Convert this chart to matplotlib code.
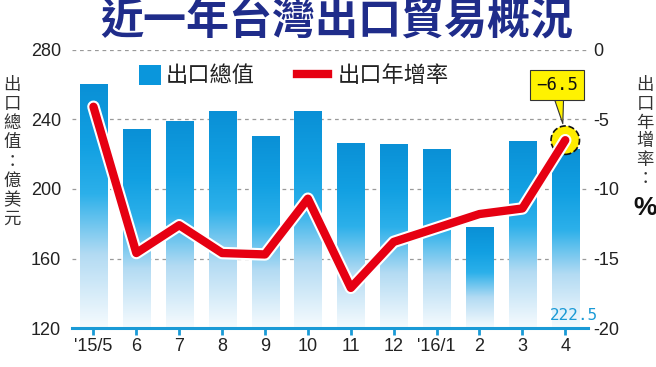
import matplotlib.pyplot as plt
import matplotlib.patheffects as pe
from matplotlib.colors import LinearSegmentedColormap
from matplotlib.patches import Rectangle
from matplotlib.lines import Line2D
import numpy as np

#data
months = ["'15/5", "6", "7", "8", "9", "10", "11", "12", "'16/1", "2", "3", "4"]
export_value = [260.0, 233.8, 238.3, 244.2, 230.0, 244.4, 226.2, 225.4, 222.2, 177.8, 227.0, 222.5]
yoy_growth = [-4.1, -14.6, -12.6, -14.6, -14.7, -10.7, -17.1, -13.8, -12.8, -11.8, -11.4, -6.5]
left_ticks = [120, 160, 200, 240, 280]
right_ticks = [0, -5, -10, -15, -20]

W, H = 656, 367
CJK = ["Noto Sans CJK TC", "DejaVu Sans"]
NUM = ["Liberation Sans", "DejaVu Sans"]
BLUE = "#0a96dc"
RED = "#e60012"
NAVY = "#1f2c8a"
AXBLUE = "#1a9ad6"


def fx(x):
  return x / W


def fy(y):
  return 1 - y / H


fig = plt.figure(figsize=(W / 100, H / 100), dpi=100)
ax = fig.add_axes([fx(72), fy(328.3), fx(588) - fx(72), fy(49.6) - fy(328.3)])
ax2 = ax.twinx()

x = np.arange(len(months))

# bars with vertical gradient
cmap = LinearSegmentedColormap.from_list("bar", [(0.0, "#f6fbfe"), (0.3, "#b3dbf3"),
                                                 (0.55, "#2cb0ea"), (0.75, "#12a0e2"),
                                                 (1.0, "#0a90d6")])
grad = np.linspace(0, 1, 256).reshape(-1, 1)
bars = ax.bar(x, [v - 120 for v in export_value], bottom=120, width=0.63,
              facecolor="none", edgecolor="none")
for b in bars:
  ax.imshow(grad, extent=[b.get_x(), b.get_x() + b.get_width(), b.get_y(), b.get_y() + b.get_height()],
            aspect="auto", cmap=cmap, origin="lower", zorder=2, interpolation="bilinear")

ax.set_xlim(-0.5, 11.53)
ax.set_ylim(120, 280)
ax.set_yticks(left_ticks)
ax.set_yticklabels([str(t) for t in left_ticks], family=NUM, fontsize=13, color="#222222")
ax.set_xticks(x)
ax.set_xticklabels(months, family=NUM, fontsize=13, color="#222222")
ax.tick_params(axis="x", length=5, width=2, color=AXBLUE, pad=2)
ax.tick_params(axis="y", length=0, pad=8)
ax.set_axisbelow(True)
ax.grid(axis="y", color="#9a9a9a", linestyle=(0, (3, 3)), linewidth=0.9)
for s in ["top", "left", "right"]:
  ax.spines[s].set_visible(False)
ax.spines["bottom"].set_color(AXBLUE)
ax.spines["bottom"].set_linewidth(2.2)
ax.spines["bottom"].set_zorder(5)

# growth line on right axis
ax2.set_ylim(-20, 0)
ax2.set_yticks(right_ticks)
ax2.set_yticklabels([str(t) for t in right_ticks], family=NUM, fontsize=13, color="#222222")
ax2.tick_params(axis="y", length=0, pad=4)
for s in ["top", "left", "right", "bottom"]:
  ax2.spines[s].set_visible(False)

ax2.scatter([x[-1]], [yoy_growth[-1]], s=420, facecolor="#ffec00", edgecolor="#111111",
            linestyle="--", linewidth=1.2, zorder=3)
ax2.plot(x, yoy_growth, color=RED, linewidth=6, solid_joinstyle="round", solid_capstyle="round",
         zorder=4, path_effects=[pe.Stroke(linewidth=9, foreground="white"), pe.Normal()])

ax2.annotate("\u22126.5", xy=(x[-1], yoy_growth[-1]), xytext=(-6, 40), textcoords="offset points",
             ha="center", va="center", family=["DejaVu Sans Mono"], fontsize=12.5, color="#111111",
             bbox=dict(boxstyle="square,pad=0.35", facecolor="#fff200", edgecolor="#333333", linewidth=0.8),
             arrowprops=dict(arrowstyle="wedge,tail_width=0.5", facecolor="#fff200", edgecolor="#333333",
                             linewidth=0.8, shrinkA=0, shrinkB=12),
             zorder=6)

ax.annotate(f"{export_value[-1]}", xy=(x[-1], 120), xytext=(6, 4), textcoords="offset points",
            ha="center", va="bottom", family=["DejaVu Sans Mono"], fontsize=11.5, color=AXBLUE, zorder=6)

# title
fig.text(fx(337), fy(22), "近一年台灣出口貿易概況", ha="center", va="center", family=CJK,
         fontsize=31, fontweight="bold", color=NAVY)

# legend
fig.add_artist(Rectangle((fx(139), fy(85)), fx(22), fy(65) - fy(85), transform=fig.transFigure,
                         facecolor=BLUE, edgecolor="none"))
fig.text(fx(166), fy(75), "出口總值", ha="left", va="center", family=CJK, fontsize=16, color="#222222")
fig.add_artist(Line2D([fx(297), fx(328)], [fy(74), fy(74)], transform=fig.transFigure,
                      color=RED, linewidth=6))
fig.text(fx(338), fy(75), "出口年增率", ha="left", va="center", family=CJK, fontsize=16, color="#222222")

# axis labels (vertical text)
fig.text(fx(12), fy(152), "\n".join("出口總值：億美元"), ha="center", va="center", family=CJK,
         fontsize=12.5, color="#333333", linespacing=1.08)
fig.text(fx(645), fy(132), "\n".join("出口年增率："), ha="center", va="center", family=CJK,
         fontsize=12.5, color="#333333", linespacing=1.05)
fig.text(fx(645), fy(208), "%", ha="center", va="center", family=NUM,
         fontsize=19, fontweight="bold", color="#111111")

fig.savefig("out.png", dpi=100)
